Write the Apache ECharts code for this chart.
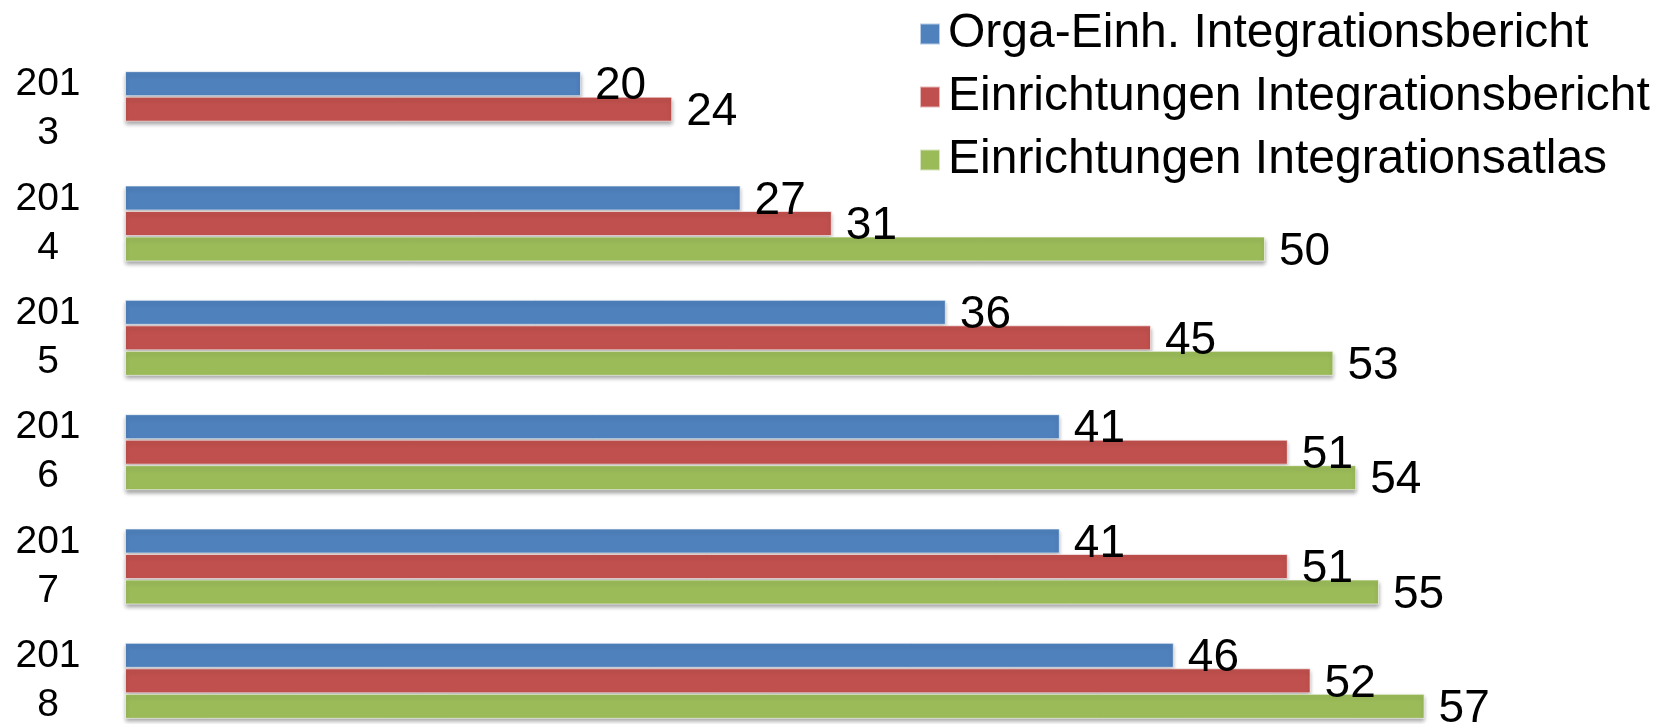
<!DOCTYPE html>
<html>
<head>
<meta charset="utf-8">
<script src="https://cdn.jsdelivr.net/npm/echarts@6/dist/echarts.min.js"></script>
<style>
  html, body { margin: 0; padding: 0; background: #fff; }
  #chart { width: 1663px; height: 724px; }
</style>
</head>
<body>
<div id="chart"></div>
<script>
const years = ['2013', '2014', '2015', '2016', '2017', '2018']
const seriesNames = [
  'Orga-Einh. Integrationsbericht',
  'Einrichtungen Integrationsbericht',
  'Einrichtungen Integrationsatlas'
]
const orgaBericht = [20, 27, 36, 41, 41, 46]
const einrBericht = [24, 31, 45, 51, 51, 52]
const einrAtlas = [null, 50, 53, 54, 55, 57]
const colors = ['#4F81BD', '#C0504D', '#9BBB59']

const font = '"Liberation Sans", Arial, sans-serif'

const makeSeries = (name, data, color) => ({
  name,
  type: 'bar',
  data: data.map(v => (v === null ? '-' : v)),
  barWidth: 25,
  barGap: '2%',
  itemStyle: {
    color,
    borderColor: 'rgba(255,255,255,0.6)',
    borderWidth: 1,
    shadowColor: 'rgba(0,0,0,0.35)',
    shadowBlur: 4,
    shadowOffsetY: 3
  },
  label: {
    show: true,
    position: 'right',
    distance: 14,
    offset: [0, 3],
    color: '#000',
    fontFamily: font,
    fontSize: 46
  }
})

const chart = echarts.init(document.getElementById('chart'))
chart.setOption({
  animation: false,
  textStyle: { fontFamily: font },
  legend: {
    orient: 'vertical',
    left: 914,
    top: 5,
    itemWidth: 20,
    itemHeight: 21,
    itemGap: 15,
    icon: 'rect',
    textStyle: {
      fontSize: 48,
      lineHeight: 46,
      color: '#000',
      fontFamily: font,
      padding: [0, 0, 0, 3]
    },
    data: seriesNames
  },
  grid: {
    left: 125,
    top: 52,
    width: 1368,
    height: 686,
    containLabel: false,
    outerBoundsMode: 'none'
  },
  xAxis: {
    type: 'value',
    min: 0,
    max: 60,
    show: false
  },
  yAxis: {
    type: 'category',
    inverse: true,
    data: years,
    axisLine: { show: false },
    axisTick: { show: false },
    axisLabel: {
      align: 'center',
      margin: 77,
      fontSize: 39,
      lineHeight: 49,
      color: '#000',
      fontFamily: font,
      formatter: v => v.slice(0, 3) + '\n' + v.slice(3)
    }
  },
  series: [
    makeSeries(seriesNames[0], orgaBericht, colors[0]),
    makeSeries(seriesNames[1], einrBericht, colors[1]),
    makeSeries(seriesNames[2], einrAtlas, colors[2])
  ]
})
</script>
</body>
</html>
